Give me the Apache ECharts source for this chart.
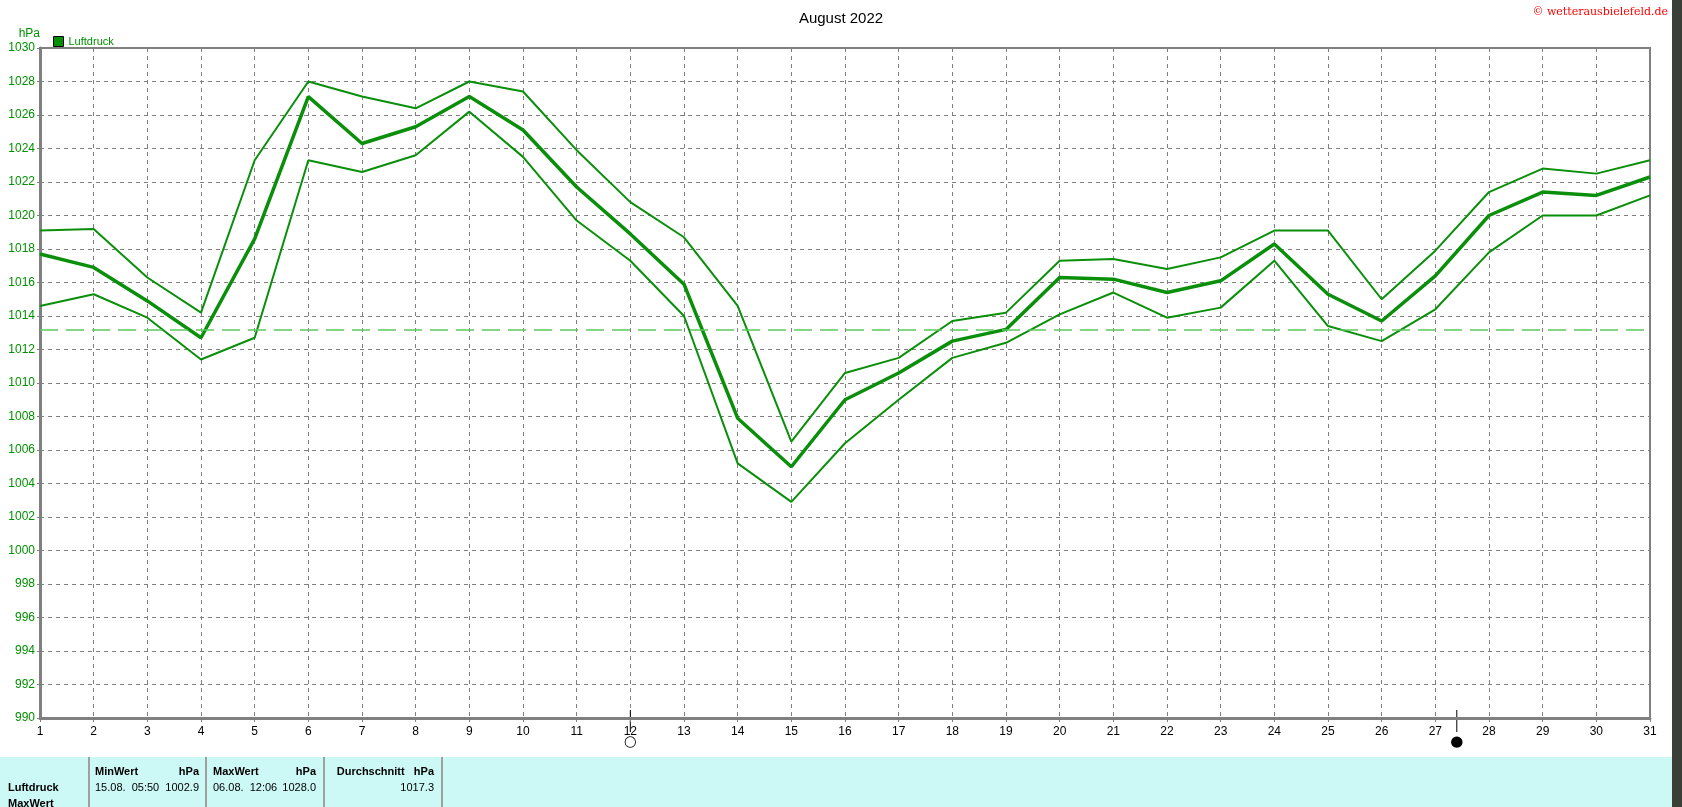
<!DOCTYPE html>
<html>
<head>
<meta charset="UTF-8">
<style>
  html, body { margin: 0; padding: 0; background: #fff; }
  #chart { width: 1682px; height: 807px; }
</style>
<script src="https://cdn.jsdelivr.net/npm/echarts@6/dist/echarts.min.js"></script>
</head>
<body>
<div id="chart"></div>
<script>
// Luftdruck August 2022, Tageswerte
var days = [];
for (var d = 1; d <= 31; d++) days.push(d);
var avgVals = [1017.7, 1016.9, 1014.9, 1012.7, 1018.6, 1027.1, 1024.3, 1025.3, 1027.1, 1025.1,
               1021.7, 1018.9, 1015.9, 1007.9, 1005.0, 1009.0, 1010.6, 1012.5, 1013.2, 1016.3,
               1016.2, 1015.4, 1016.1, 1018.3, 1015.3, 1013.7, 1016.4, 1020.0, 1021.4, 1021.2, 1022.3];
var maxVals = [1019.1, 1019.2, 1016.3, 1014.2, 1023.3, 1028.0, 1027.1, 1026.4, 1028.0, 1027.4,
               1023.9, 1020.8, 1018.7, 1014.6, 1006.5, 1010.6, 1011.5, 1013.7, 1014.2, 1017.3,
               1017.4, 1016.8, 1017.5, 1019.1, 1019.1, 1015.0, 1017.9, 1021.4, 1022.8, 1022.5, 1023.3];
var minVals = [1014.6, 1015.3, 1013.9, 1011.4, 1012.7, 1023.3, 1022.6, 1023.6, 1026.2, 1023.5,
               1019.7, 1017.3, 1014.0, 1005.2, 1002.9, 1006.4, 1009.0, 1011.5, 1012.4, 1014.1,
               1015.4, 1013.9, 1014.5, 1017.3, 1013.4, 1012.5, 1014.4, 1017.8, 1020.0, 1020.0, 1021.2];
var monthMean = 1013.2;
var moonDays = [12, 27.4];   // Vollmond, Neumond
var moonGlyphs = ['○', '●'];

function pairs(vals) {
    return vals.map(function (v, i) { return [days[i], v]; });
}

var font = 'Liberation Sans, Arial, sans-serif';
var chart = echarts.init(document.getElementById('chart'));

var lineStyle = { color: '#0a8f0a', width: 2 };
var option = {
    animation: false,
    title: {
        text: 'August 2022', left: 'center', top: 6,
        textStyle: { fontFamily: font, fontSize: 15, fontWeight: 'normal', color: '#000' }
    },
    legend: {
        data: [{ name: 'Luftdruck', icon: 'rect' }],
        left: 48, top: 31, itemWidth: 10, itemHeight: 10, itemGap: 4,
        textStyle: { fontFamily: font, fontSize: 11, color: '#009000' },
        itemStyle: { borderColor: '#000', borderWidth: 1 }
    },
    grid: { left: 40, right: 32, top: 48, bottom: 89, show: true, borderColor: '#808080', borderWidth: 2 },
    xAxis: {
        type: 'value', min: 1, max: 31, interval: 1,
        axisLine: { lineStyle: { color: '#808080', width: 3 } },
        axisTick: { show: true, length: 4, lineStyle: { color: '#808080' } },
        axisLabel: { color: '#000', fontFamily: font, fontSize: 12, margin: 8 },
        splitLine: { show: true, lineStyle: { color: '#808080', type: [4, 4] } }
    },
    yAxis: {
        type: 'value', min: 990, max: 1030, interval: 2,
        name: 'hPa', nameGap: 8, nameLocation: 'end',
        nameTextStyle: { color: '#009000', fontFamily: font, fontSize: 12, align: 'right' },
        axisLine: { show: true, lineStyle: { color: '#808080', width: 3 } },
        axisTick: { show: true, length: 3, lineStyle: { color: '#808080' } },
        axisLabel: { color: '#009000', fontFamily: font, fontSize: 12, margin: 5,
            formatter: function (v) { return String(v); } },
        splitLine: { show: true, lineStyle: { color: '#808080', type: [4, 4] } }
    },
    series: [
        {
            name: 'Luftdruck', type: 'line', data: pairs(avgVals), symbol: 'none',
            itemStyle: { color: '#009000' },
            lineStyle: { color: '#0a8f0a', width: 3.5 },
            markLine: {
                symbol: 'none', silent: true, label: { show: false },
                lineStyle: { color: '#5cc85c', type: [18, 8], width: 1.5 },
                data: [{ yAxis: monthMean }]
            }
        },
        { name: 'Max', type: 'line', data: pairs(maxVals), symbol: 'none', lineStyle: lineStyle },
        { name: 'Min', type: 'line', data: pairs(minVals), symbol: 'none', lineStyle: lineStyle }
    ]
};
chart.setOption(option);

// Mondphasen unter der x-Achse
var g = [];
moonDays.forEach(function (md, i) {
    var p = chart.convertToPixel({ gridIndex: 0 }, [md, 990]);
    g.push({ type: 'line', shape: { x1: p[0], y1: p[1] - 8, x2: p[0], y2: p[1] + 14 }, style: { stroke: '#000', lineWidth: 1 } });
    g.push({ type: 'text', x: p[0], y: p[1] + 24, style: { text: moonGlyphs[i], fill: '#000', font: 'bold 15px DejaVu Sans, sans-serif', align: 'center', verticalAlign: 'middle' } });
});

// Copyright
g.push({ type: 'text', right: 14, top: 7, style: { text: '© wetterausbielefeld.de', fill: '#ff0000', font: '11px DejaVu Serif, serif' } });

// dunkler Rand rechts
g.push({ type: 'rect', shape: { x: 1672, y: 0, width: 10, height: 807 }, style: { fill: '#3a3f38' } });

// Tabelle
var tTop = 757;
g.push({ type: 'rect', shape: { x: 0, y: tTop, width: 1672, height: 50 }, style: { fill: '#ccf8f6' } });
[88, 205, 323, 441].forEach(function (x) {
    g.push({ type: 'rect', shape: { x: x, y: tTop, width: 2, height: 50 }, style: { fill: '#a0a0a0' } });
});
function txt(s, x, y, bold, align) {
    g.push({ type: 'text', x: x, y: y, style: { text: s, fill: '#000', align: align || 'left', verticalAlign: 'middle',
        font: (bold ? 'bold ' : '') + '11px ' + font } });
}
txt('Luftdruck', 8, 788, true);
txt('MaxWert', 8, 804, true);
txt('MinWert', 95, 772, true); txt('hPa', 199, 772, true, 'right');
txt('15.08.  05:50', 95, 788, false); txt('1002.9', 199, 788, false, 'right');
txt('MaxWert', 213, 772, true); txt('hPa', 316, 772, true, 'right');
txt('06.08.  12:06', 213, 788, false); txt('1028.0', 316, 788, false, 'right');
txt('Durchschnitt   hPa', 434, 772, true, 'right');
txt('1017.3', 434, 788, false, 'right');

chart.setOption({ graphic: g });
</script>
</body>
</html>
